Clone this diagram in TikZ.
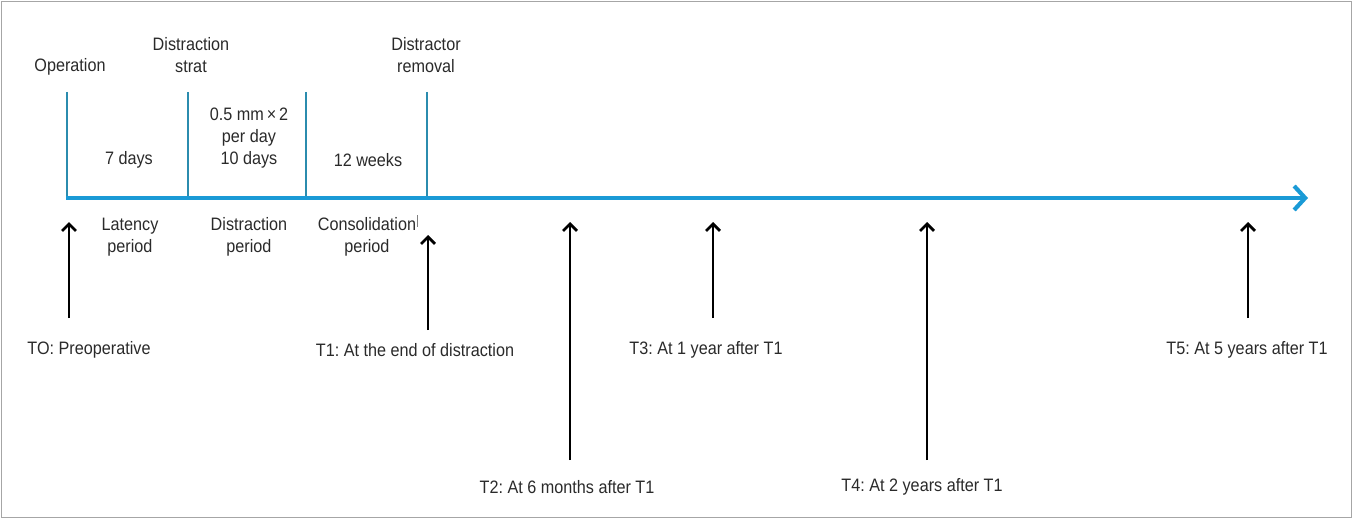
\documentclass[tikz,border=0pt]{standalone}
\usepackage{fontspec}
\setmainfont[FakeStretch=0.9]{Liberation Sans}
\usetikzlibrary{arrows.meta}
\definecolor{axisblue}{HTML}{1A9AD6}
\definecolor{tickteal}{HTML}{2B8CAE}
\definecolor{txt}{HTML}{2A2A2A}
\frenchspacing
\begin{document}
\begin{tikzpicture}[x=1pt,y=-1pt,
  lbl/.style={text=txt,font=\fontsize{18}{22}\selectfont,align=center,inner sep=0pt},
  tickline/.style={draw=tickteal,line width=2pt},
  uparrow/.style={draw=black,line width=2.8pt,-{Straight Barb[length=7pt,width=14pt,line width=2.8pt]}},
  mainaxis/.style={draw=axisblue,line width=4.2pt,-{Straight Barb[length=11pt,width=24pt,line width=4.2pt]}}]
\useasboundingbox (0,0) rectangle (1353,519);
\draw[draw=gray!70,line width=1.2pt] (1.5,1.5) rectangle (1351.5,517.5);
% axis
\coordinate (a0) at (66,198);
\coordinate (a1) at (1308,198);
% ticks
\foreach \n/\x in {t0/67,t1/188,t2/306,t3/427}{
  \coordinate (\n top) at (\x,92);
  \coordinate (\n bot) at (\x,198);
  \draw[tickline] (\n top) -- (\n bot);
}
\draw[mainaxis] (a0) -- (a1);
% top labels
\node[lbl] (op) at (70,67) {Operation};
\node[lbl] (ds) at (191,55) {Distraction\\strat};
\node[lbl] (dr) at (426,55) {Distractor\\removal};
\node[lbl] (d7) at (129,160) {7 days};
\node[lbl] (d10) at (249,138) {0.5 mm\,×\,2\\per day\\10 days};
\node[lbl] (w12) at (368,160) {12 weeks};
% bottom period labels
\node[lbl] (lp) at (130,237) {Latency\\period};
\node[lbl] (dp) at (249,237) {Distraction\\period};
\node[lbl] (cp) at (367,237) {Consolidation\\period};
\coordinate (mk0) at (417,215);
\coordinate (mk1) at (417,227);
\draw[gray,line width=0.6pt] (mk0) -- (mk1);
% time point labels
\node[lbl] (T0) at (89,350) {TO: Preoperative};
\node[lbl] (T1) at (415,350) {T1: At the end of distraction};
\node[lbl] (T2) at (567,487) {T2: At 6 months after T1};
\node[lbl] (T3) at (706,350) {T3: At 1 year after T1};
\node[lbl] (T4) at (922,487) {T4: At 2 years after T1};
\node[lbl] (T5) at (1247,350) {T5: At 5 years after T1};
% arrows
\foreach \n/\x/\yb/\yt in {p0/69/318/222,p1/428/330/235,p2/570/460/222,p3/713/318/222,p4/927/460/222,p5/1248/318/222}{
  \coordinate (\n b) at (\x,\yb);
  \coordinate (\n t) at (\x,\yt);
  \draw[uparrow] (\n b) -- (\n t);
}
\end{tikzpicture}
\end{document}
